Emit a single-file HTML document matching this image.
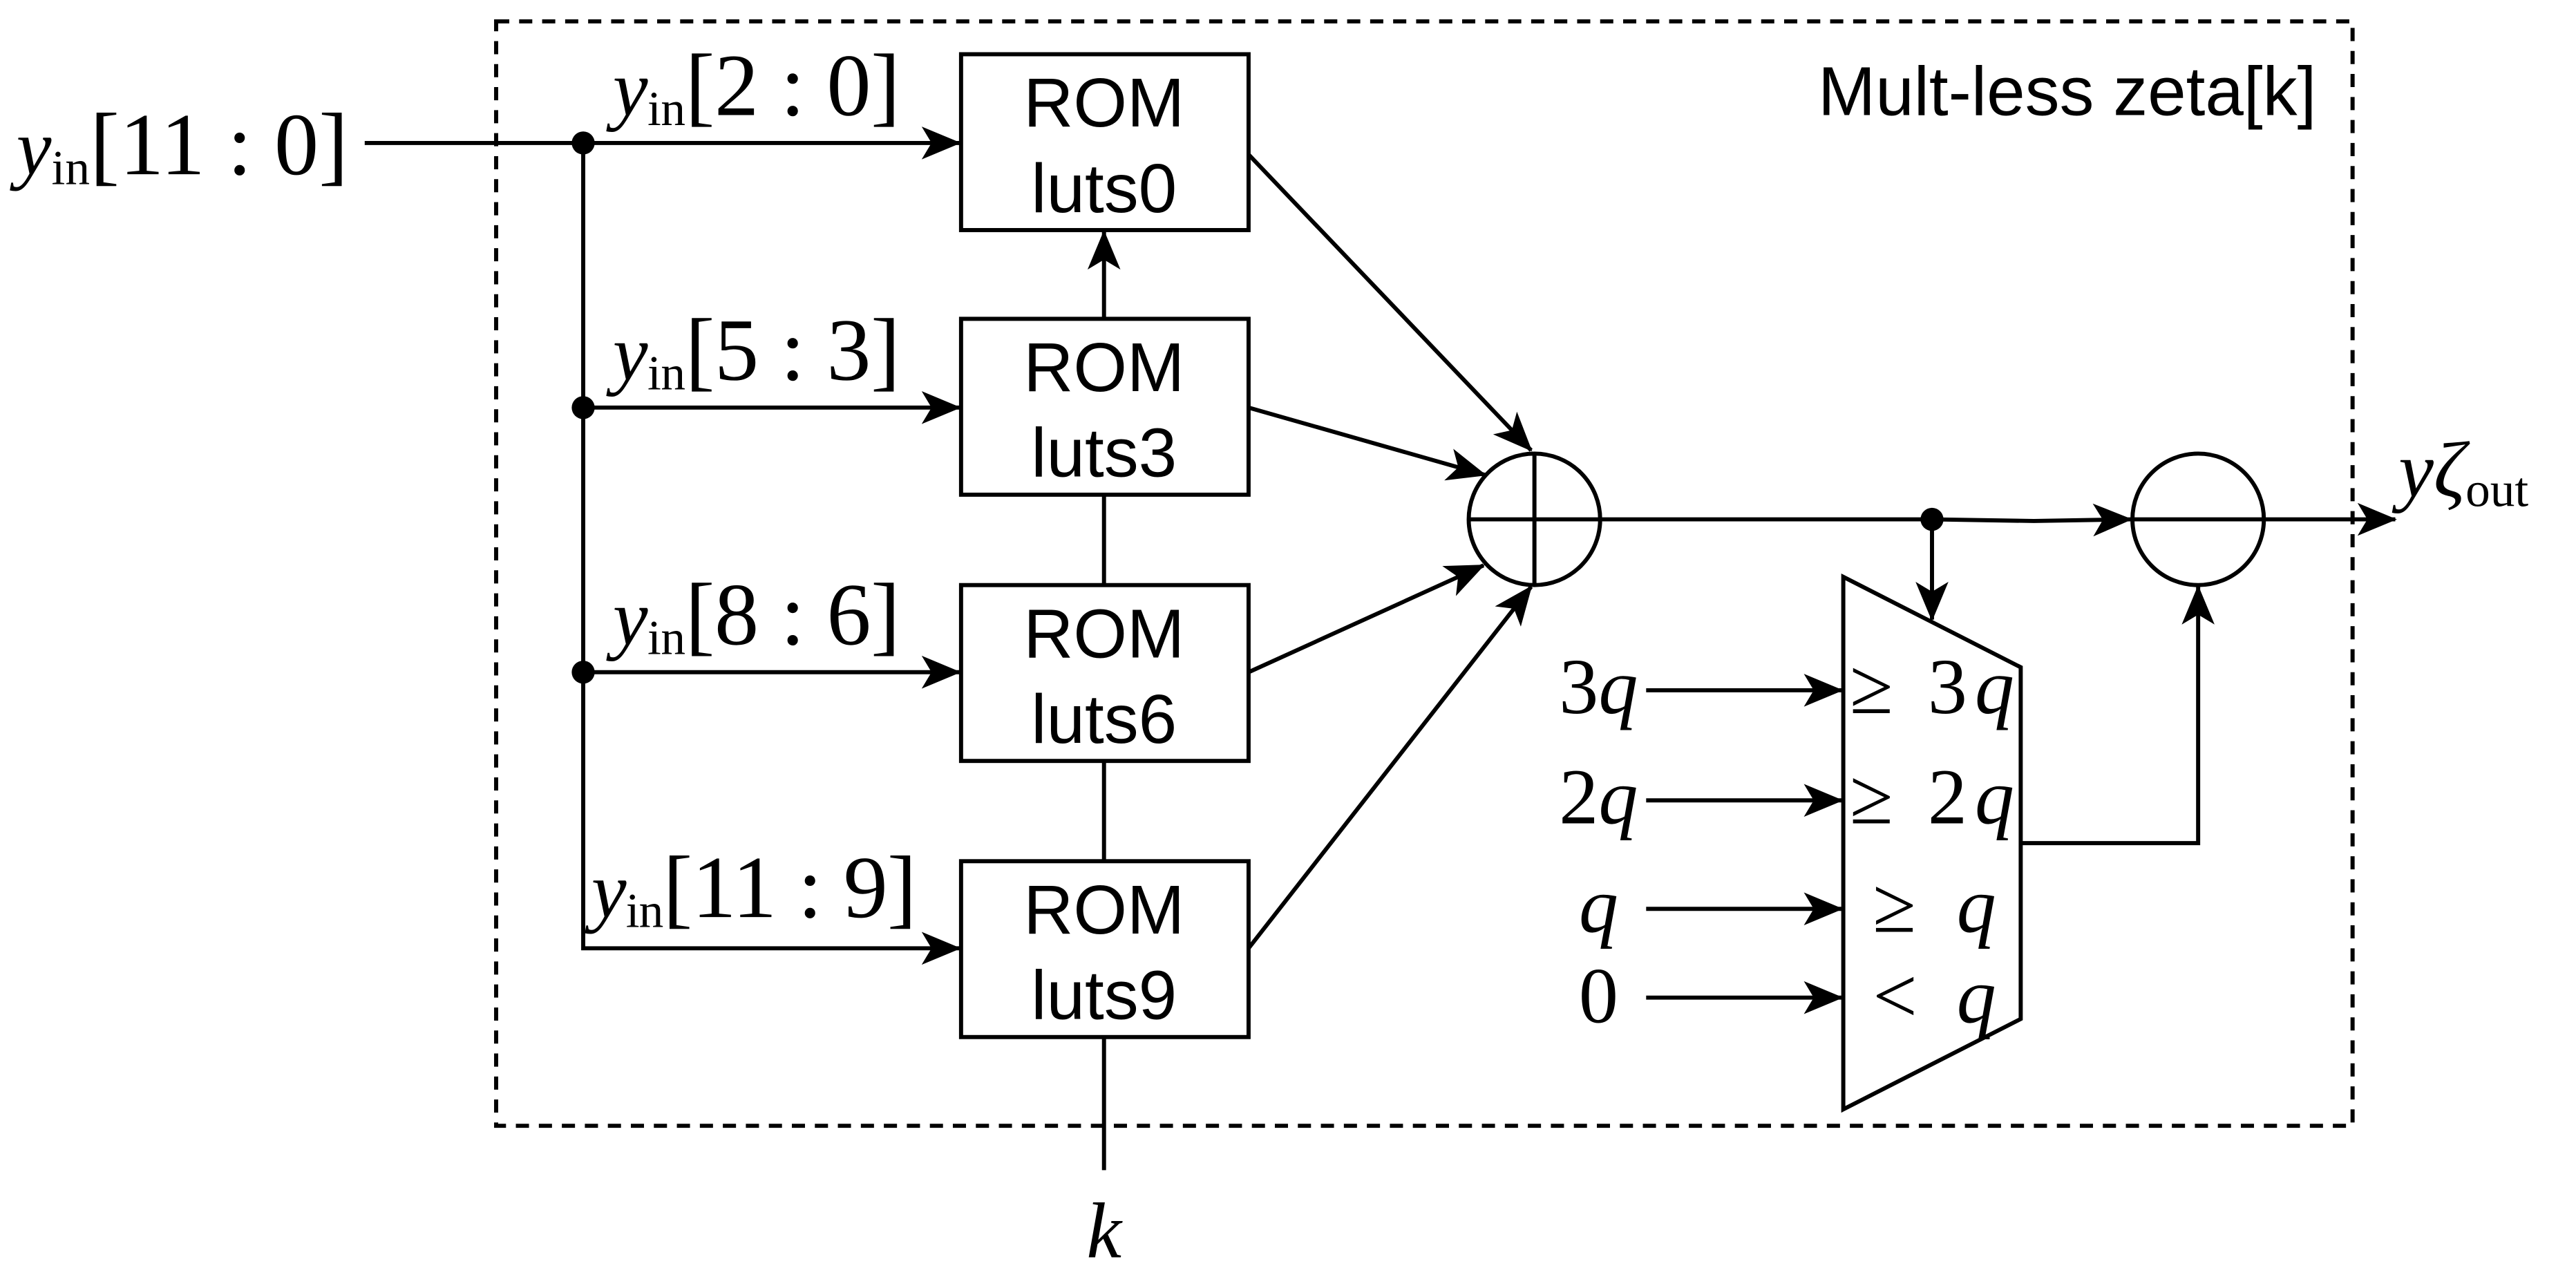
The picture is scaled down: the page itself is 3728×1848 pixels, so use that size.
<!DOCTYPE html>
<html><head><meta charset="utf-8"><style>
html,body{margin:0;padding:0;background:#fff;}
svg{display:block;}
.m{font-family:"Liberation Serif",serif;font-size:48px;}
.i{font-style:italic;}
.s{font-size:30px;}
.b{font-size:54px;}
.h{font-family:"Liberation Sans",sans-serif;font-size:42px;}
</style></head><body>
<svg width="3728" height="1848" viewBox="0 0 1568 777" preserveAspectRatio="none" xmlns="http://www.w3.org/2000/svg">
<defs>
<marker id="a" viewBox="0 0 24 20" refX="23" refY="10" markerWidth="24" markerHeight="20" markerUnits="userSpaceOnUse" orient="auto">
<path d="M0,0 L24,10 L0,20 L6,10 Z" fill="#000"/>
</marker>
</defs>
<rect width="1568" height="777" fill="#fff"/>
<g fill="none" stroke="#000" stroke-width="2.5">
<rect x="302" y="13" width="1130" height="672" stroke-dasharray="8,6"/>
<line x1="222" y1="87" x2="584" y2="87" marker-end="url(#a)"/>
<line x1="355" y1="248" x2="584" y2="248" marker-end="url(#a)"/>
<line x1="355" y1="409" x2="584" y2="409" marker-end="url(#a)"/>
<polyline points="355,87 355,577 584,577" marker-end="url(#a)"/>
<rect x="585" y="33" width="175" height="107" fill="#fff"/>
<rect x="585" y="194" width="175" height="107" fill="#fff"/>
<rect x="585" y="356" width="175" height="107" fill="#fff"/>
<rect x="585" y="524" width="175" height="107" fill="#fff"/>
<line x1="672" y1="194" x2="672" y2="141" marker-end="url(#a)"/>
<line x1="672" y1="301" x2="672" y2="356"/>
<line x1="672" y1="463" x2="672" y2="524"/>
<line x1="672" y1="631" x2="672" y2="712"/>
<line x1="760" y1="94" x2="932" y2="274" marker-end="url(#a)"/>
<line x1="760" y1="248" x2="904" y2="289" marker-end="url(#a)"/>
<line x1="760" y1="409" x2="903" y2="344" marker-end="url(#a)"/>
<line x1="760" y1="577" x2="932" y2="357" marker-end="url(#a)"/>
<ellipse cx="934" cy="316" rx="40" ry="40"/>
<line x1="894" y1="316" x2="974" y2="316"/>
<line x1="934" y1="276" x2="934" y2="356"/>
<polyline points="974,316 1176,316 1238,317 1297,316" marker-end="url(#a)"/>
<line x1="1176" y1="316" x2="1176" y2="377" marker-end="url(#a)"/>
<ellipse cx="1338" cy="316" rx="40" ry="40"/>
<line x1="1298" y1="316" x2="1458" y2="316" marker-end="url(#a)"/>
<polygon points="1122,351 1230,406 1230,620 1122,675"/>
<line x1="1002" y1="420" x2="1121" y2="420" marker-end="url(#a)"/>
<line x1="1002" y1="487" x2="1121" y2="487" marker-end="url(#a)"/>
<line x1="1002" y1="553" x2="1121" y2="553" marker-end="url(#a)"/>
<line x1="1002" y1="607" x2="1121" y2="607" marker-end="url(#a)"/>
<polyline points="1230,513 1338,513 1338,357" marker-end="url(#a)"/>
</g>
<g fill="#000">
<circle cx="355" cy="87" r="7"/><circle cx="355" cy="248" r="7"/><circle cx="355" cy="409" r="7"/>
<circle cx="1176" cy="316" r="7"/>
</g>
<g class="h" text-anchor="middle">
<text x="672" y="77">ROM</text><text x="672" y="129">luts0</text>
<text x="672" y="238">ROM</text><text x="672" y="290">luts3</text>
<text x="672" y="400">ROM</text><text x="672" y="452">luts6</text>
<text x="672" y="568">ROM</text><text x="672" y="620">luts9</text>
</g>
<text class="h" x="1410" y="70" text-anchor="end">Mult-less zeta[k]</text>
<g class="m">
<text x="10" y="106" textLength="202"><tspan class="i">y</tspan><tspan class="s" dy="6">in</tspan><tspan dy="-6" class="b">[11 : 0]</tspan></text>
<text x="373" y="70" textLength="175"><tspan class="i">y</tspan><tspan class="s" dy="6">in</tspan><tspan dy="-6" class="b">[2 : 0]</tspan></text>
<text x="373" y="231" textLength="175"><tspan class="i">y</tspan><tspan class="s" dy="6">in</tspan><tspan dy="-6" class="b">[5 : 3]</tspan></text>
<text x="373" y="392" textLength="175"><tspan class="i">y</tspan><tspan class="s" dy="6">in</tspan><tspan dy="-6" class="b">[8 : 6]</tspan></text>
<text x="360" y="558" textLength="198"><tspan class="i">y</tspan><tspan class="s" dy="6">in</tspan><tspan dy="-6" class="b">[11 : 9]</tspan></text>
<text x="1460" y="302"><tspan class="i">yζ</tspan><tspan class="s" dy="6">out</tspan></text>
<text x="672" y="765" class="i" text-anchor="middle">k</text>
<text x="997" y="434" text-anchor="end">3<tspan class="i">q</tspan></text>
<text x="997" y="501" text-anchor="end">2<tspan class="i">q</tspan></text>
<text x="985" y="567" text-anchor="end" class="i">q</text>
<text x="985" y="622" text-anchor="end">0</text>
<text x="1126" y="434" textLength="100">≥ 3<tspan class="i">q</tspan></text>
<text x="1126" y="501" textLength="100">≥ 2<tspan class="i">q</tspan></text>
<text x="1140" y="567" textLength="75">≥ <tspan class="i">q</tspan></text>
<text x="1140" y="622" textLength="75">&lt; <tspan class="i">q</tspan></text>
</g>
</svg>
</body></html>
